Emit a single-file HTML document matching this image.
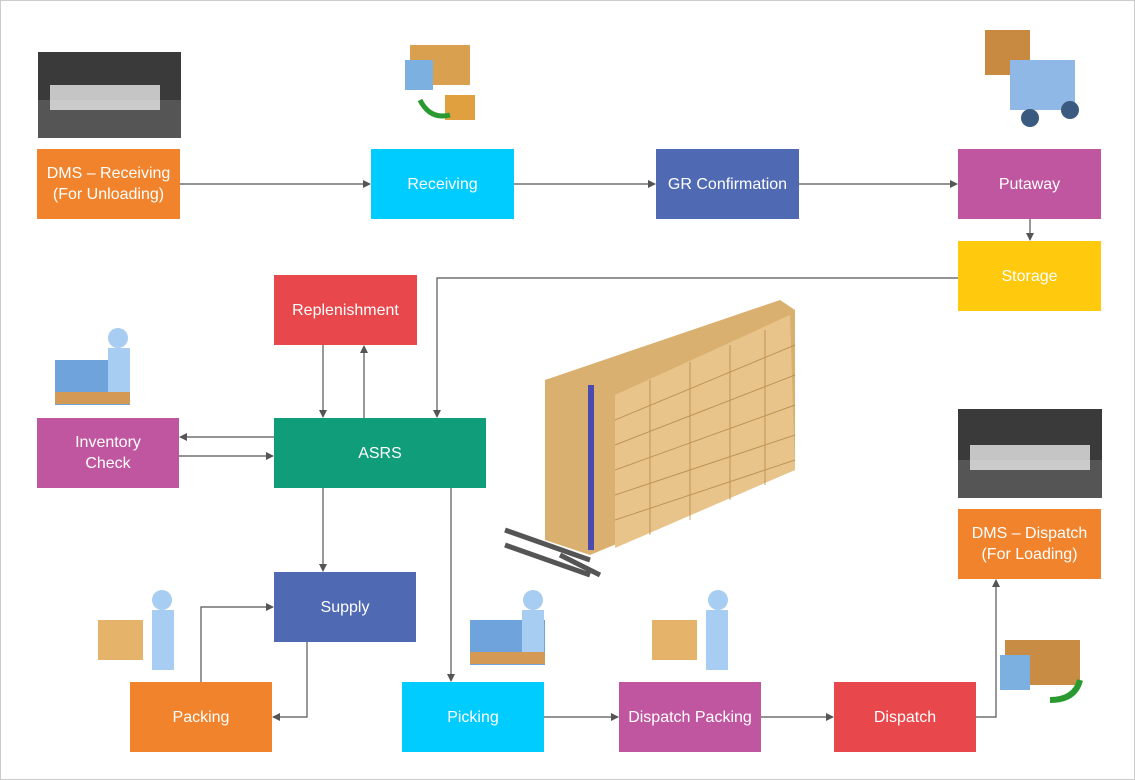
<!DOCTYPE html>
<html><head><meta charset="utf-8"><style>
body{margin:0;background:#fff;}
#c{position:relative;width:1135px;height:780px;overflow:hidden;font-family:"Liberation Sans",sans-serif;}
.b{position:absolute;width:143px;height:70px;color:#fff;font-size:16px;display:flex;align-items:center;justify-content:center;text-align:center;line-height:21px;}
.o{background:#F0832B}.cy{background:#00CCFF}.bl{background:#4F6AB3}.m{background:#C056A0}.y{background:#FFC90E}.r{background:#E8474B}.g{background:#0F9D7A}
</style></head><body><div id="c">
<svg width="1135" height="780" style="position:absolute;left:0;top:0">
<defs><marker id="a" markerWidth="8" markerHeight="8" refX="7" refY="4" orient="auto" markerUnits="userSpaceOnUse"><path d="M0,0 L8,4 L0,8z" fill="#555"/></marker></defs>
<rect x="0.5" y="0.5" width="1134" height="779" fill="none" stroke="#ccc"/>
<!-- truck photos -->
<rect x="38" y="52" width="143" height="86" fill="#3a3a3a"/>
<rect x="38" y="100" width="143" height="38" fill="#555"/>
<rect x="50" y="85" width="110" height="25" fill="#e8e8e8" opacity=".8"/>
<rect x="958" y="409" width="144" height="89" fill="#3a3a3a"/>
<rect x="958" y="460" width="144" height="38" fill="#555"/>
<rect x="970" y="445" width="120" height="25" fill="#e8e8e8" opacity=".8"/>
<!-- icons -->
<rect x="410" y="45" width="60" height="40" fill="#d9a050"/><rect x="405" y="60" width="28" height="30" fill="#7bb0e0"/>
<rect x="445" y="95" width="30" height="25" fill="#e0a040"/><path d="M420 100 q10 20 30 15" stroke="#2a9a30" stroke-width="5" fill="none"/>
<rect x="985" y="30" width="45" height="45" fill="#c88a40"/><rect x="1010" y="60" width="65" height="50" fill="#8fb8e6"/><circle cx="1030" cy="118" r="9" fill="#3a5a80"/><circle cx="1070" cy="110" r="9" fill="#3a5a80"/>
<rect x="1005" y="640" width="75" height="45" fill="#c98c45"/><rect x="1000" y="655" width="30" height="35" fill="#7bb0e0"/><path d="M1050 700 q25 0 30 -20" stroke="#2a9a30" stroke-width="6" fill="none"/>
<rect x="55" y="360" width="75" height="45" fill="#6fa3dc"/><circle cx="118" cy="338" r="10" fill="#a8cdf2"/><rect x="108" y="348" width="22" height="45" fill="#a8cdf2"/><rect x="55" y="392" width="75" height="12" fill="#d49a55"/>
<rect x="470" y="620" width="75" height="45" fill="#6fa3dc"/><circle cx="533" cy="600" r="10" fill="#a8cdf2"/><rect x="522" y="610" width="22" height="45" fill="#a8cdf2"/><rect x="470" y="652" width="75" height="12" fill="#d49a55"/>
<rect x="98" y="620" width="45" height="40" fill="#e6b36a"/><circle cx="162" cy="600" r="10" fill="#a8cdf2"/><rect x="152" y="610" width="22" height="60" fill="#a8cdf2"/>
<rect x="652" y="620" width="45" height="40" fill="#e6b36a"/><circle cx="718" cy="600" r="10" fill="#a8cdf2"/><rect x="706" y="610" width="22" height="60" fill="#a8cdf2"/>
<!-- warehouse -->
<polygon points="545,380 780,300 795,310 795,470 590,555 545,540" fill="#d9b070"/>
<polygon points="615,395 790,315 795,470 615,548" fill="#e8c48a"/>
<g stroke="#b08040" stroke-width="1" opacity=".7">
<line x1="615" y1="420" x2="795" y2="345"/><line x1="615" y1="445" x2="795" y2="375"/><line x1="615" y1="470" x2="795" y2="405"/><line x1="615" y1="495" x2="795" y2="435"/><line x1="615" y1="520" x2="795" y2="460"/>
<line x1="650" y1="380" x2="650" y2="535"/><line x1="690" y1="362" x2="690" y2="520"/><line x1="730" y1="345" x2="730" y2="500"/><line x1="765" y1="330" x2="765" y2="485"/>
</g>
<rect x="588" y="385" width="6" height="165" fill="#4a4ab0"/>
<path d="M505,530 L590,560 M505,545 L590,575 M560,555 L600,575" stroke="#555" stroke-width="5"/>
<g stroke="#555" stroke-width="1.2" fill="none" marker-end="url(#a)">
<line x1="180" y1="184" x2="370" y2="184"/>
<line x1="514" y1="184" x2="655" y2="184"/>
<line x1="799" y1="184" x2="957" y2="184"/>
<line x1="1030" y1="219" x2="1030" y2="240"/>
<polyline points="958,278 437,278 437,417"/>
<line x1="323" y1="345" x2="323" y2="417"/>
<line x1="364" y1="418" x2="364" y2="346"/>
<line x1="274" y1="437" x2="180" y2="437"/>
<line x1="179" y1="456" x2="273" y2="456"/>
<line x1="323" y1="488" x2="323" y2="571"/>
<polyline points="307,642 307,717 273,717"/>
<polyline points="201,682 201,607 273,607"/>
<line x1="451" y1="488" x2="451" y2="681"/>
<line x1="544" y1="717" x2="618" y2="717"/>
<line x1="761" y1="717" x2="833" y2="717"/>
<polyline points="976,717 996,717 996,580"/>
</g>
</svg>
<div class="b o" style="left:37px;top:149px">DMS – Receiving<br>(For Unloading)</div>
<div class="b cy" style="left:371px;top:149px">Receiving</div>
<div class="b bl" style="left:656px;top:149px">GR Confirmation</div>
<div class="b m" style="left:958px;top:149px">Putaway</div>
<div class="b y" style="left:958px;top:241px">Storage</div>
<div class="b r" style="left:274px;top:275px">Replenishment</div>
<div class="b g" style="left:274px;top:418px;width:212px">ASRS</div>
<div class="b m" style="left:37px;top:418px;width:142px">Inventory<br>Check</div>
<div class="b bl" style="left:274px;top:572px;width:142px">Supply</div>
<div class="b o" style="left:130px;top:682px;width:142px">Packing</div>
<div class="b cy" style="left:402px;top:682px;width:142px">Picking</div>
<div class="b m" style="left:619px;top:682px;width:142px">Dispatch Packing</div>
<div class="b r" style="left:834px;top:682px;width:142px">Dispatch</div>
<div class="b o" style="left:958px;top:509px">DMS – Dispatch<br>(For Loading)</div>
</div></body></html>
